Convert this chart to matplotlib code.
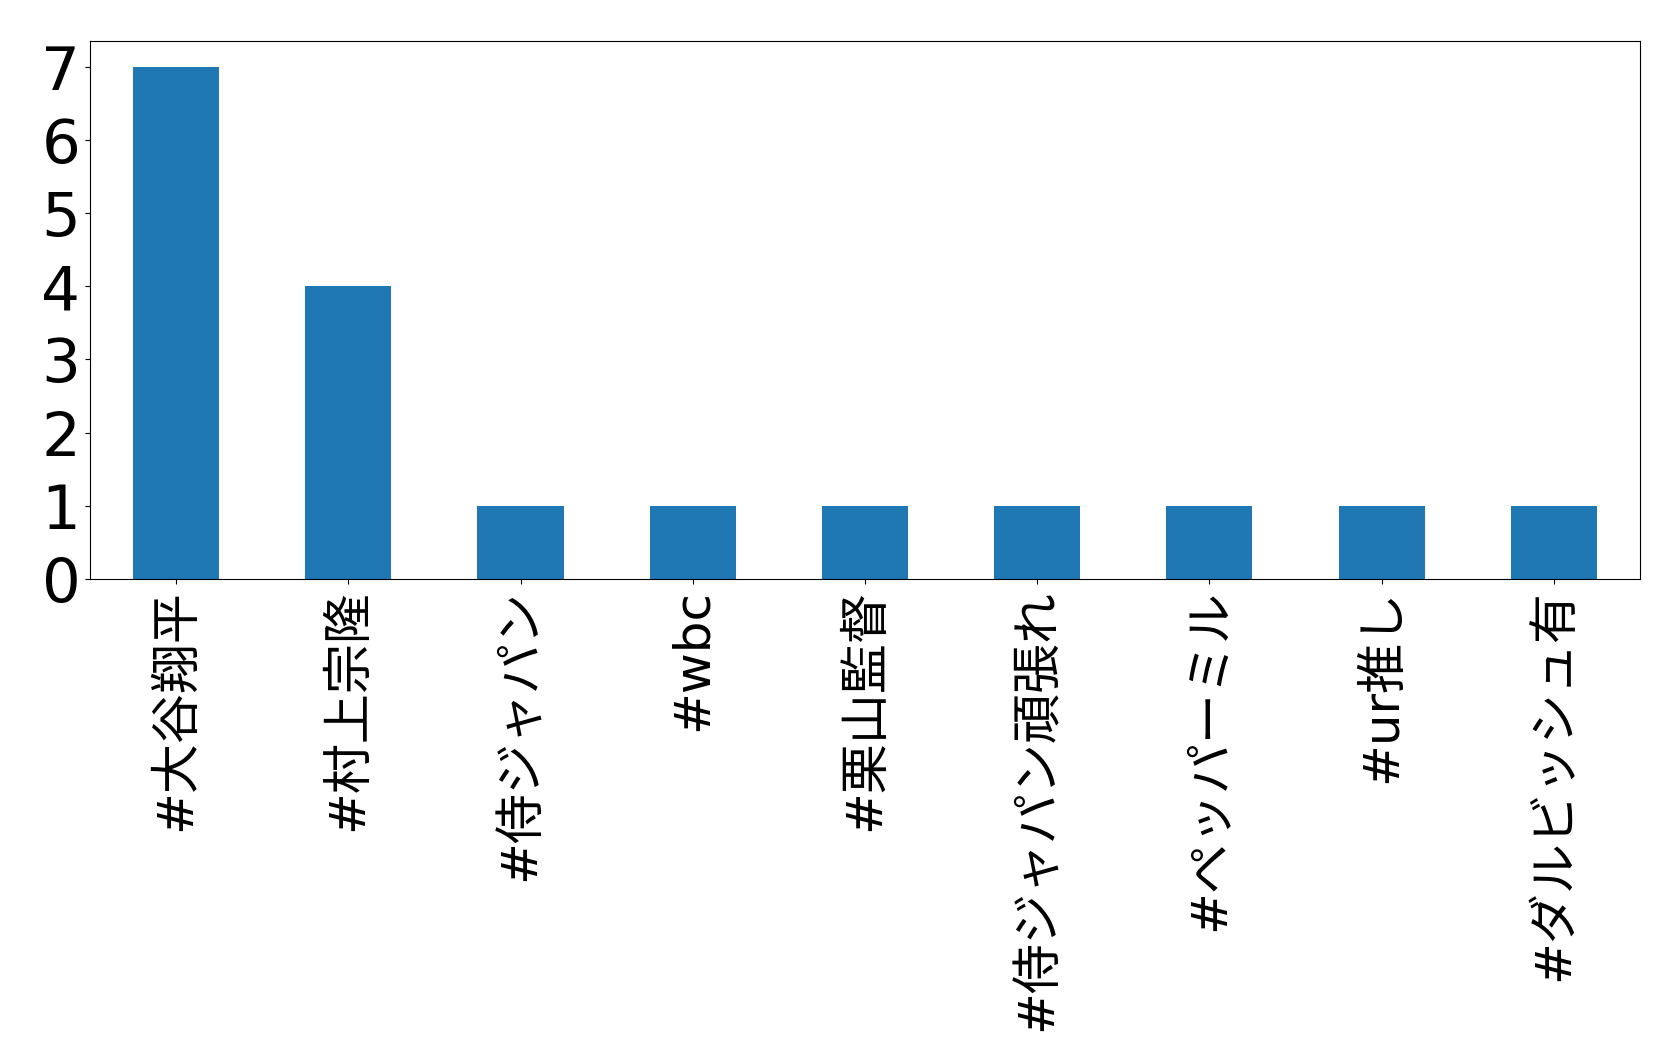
import matplotlib
matplotlib.use('Agg')
import matplotlib.pyplot as plt
from matplotlib.ticker import MultipleLocator

# hashtag counts
hashtags = ['#大谷翔平', '#村上宗隆', '#侍ジャパン', '#wbc', '#栗山監督',
            '#侍ジャパン頑張れ', '#ペッパーミル', '#ur推し', '#ダルビッシュ有']
counts = [7, 4, 1, 1, 1, 1, 1, 1, 1]

plt.rcParams['font.family'] = ['DejaVu Sans', 'Noto Sans CJK JP']

fig = plt.figure(figsize=(16.79, 10.56), dpi=100)
ax = fig.add_subplot(111)
fig.subplots_adjust(left=90/1679, right=1640/1679, top=1-41/1056, bottom=1-579/1056)

x = range(len(hashtags))
ax.bar(x, counts, width=0.5, color='#1f77b4')
ax.set_xlim(-0.5, len(hashtags) - 0.5)
ax.yaxis.set_major_locator(MultipleLocator(1))
ax.set_xticks(list(x))
ax.set_xticklabels(hashtags, rotation=90)
ax.tick_params(axis='y', labelsize=44)
ax.tick_params(axis='x', labelsize=36)

fig.savefig('out.png', dpi=100)
